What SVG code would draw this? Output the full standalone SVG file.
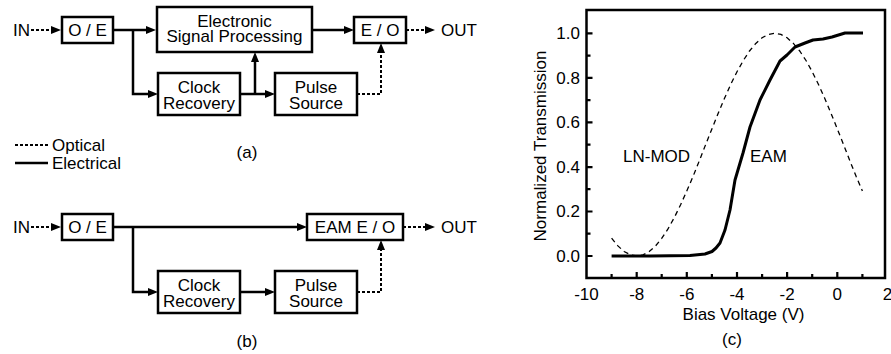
<svg xmlns="http://www.w3.org/2000/svg" width="891" height="354" viewBox="0 0 891 354">
<style>
text{font-family:"Liberation Sans",Arial,sans-serif;font-size:17px;fill:#000}
.c{text-anchor:middle}
.box{fill:#fff;stroke:#000;stroke-width:2.5}
.el{fill:none;stroke:#000;stroke-width:2.5}
.op{fill:none;stroke:#000;stroke-width:2;stroke-dasharray:3 2}
.tk{font-size:16.5px}
.ax{fill:none;stroke:#000;stroke-width:2.5}
.tick{stroke:#000;stroke-width:2.2}
</style>
<defs>
<marker id="ah" viewBox="0 0 10 8" refX="4" refY="4" markerWidth="10" markerHeight="8" markerUnits="userSpaceOnUse" orient="auto">
<path d="M0,0L10,4L0,8z" fill="#000"/>
</marker>
</defs>

<g id="connectors">
<path class="op" d="M31,30H55" marker-end="url(#ah)"/>
<path class="el" d="M113,30H150" marker-end="url(#ah)"/>
<path class="el" d="M133,30V94H152" marker-end="url(#ah)"/>
<path class="el" d="M240,94H269" marker-end="url(#ah)"/>
<path class="el" d="M255,94V58" marker-end="url(#ah)"/>
<path class="el" d="M312,30H348" marker-end="url(#ah)"/>
<path class="op" d="M406,30H429" marker-end="url(#ah)"/>
<path class="op" d="M357,94H381V49" marker-end="url(#ah)"/>

<path class="op" d="M31,227H55" marker-end="url(#ah)"/>
<path class="el" d="M113,227H301" marker-end="url(#ah)"/>
<path class="el" d="M133,227V292H152" marker-end="url(#ah)"/>
<path class="el" d="M240,292H269" marker-end="url(#ah)"/>
<path class="op" d="M403,227H429" marker-end="url(#ah)"/>
<path class="op" d="M357,292H381V246" marker-end="url(#ah)"/>
</g>

<g id="in-a"><text x="13" y="36">IN</text></g>
<g id="oe-a"><rect class="box" x="62" y="17" width="51" height="26"/><text class="c" x="87.5" y="36">O / E</text></g>
<g id="esp-a"><rect class="box" x="157" y="7" width="155" height="45"/><text class="c" x="234.5" y="26.5">Electronic</text><text class="c" x="234.5" y="41.5">Signal Processing</text></g>
<g id="cr-a"><rect class="box" x="158" y="73" width="82" height="42"/><text class="c" x="199" y="92.5">Clock</text><text class="c" x="199" y="108.5">Recovery</text></g>
<g id="ps-a"><rect class="box" x="275" y="73" width="82" height="42"/><text class="c" x="316" y="92.5">Pulse</text><text class="c" x="316" y="108.5">Source</text></g>
<g id="eo-a"><rect class="box" x="354" y="17" width="52" height="26"/><text class="c" x="380" y="36">E / O</text></g>
<g id="out-a"><text x="441" y="36">OUT</text></g>

<g id="legend">
<path class="op" d="M15,145H48"/><text x="52" y="151">Optical</text>
<path class="el" d="M15,163H48"/><text x="52" y="169">Electrical</text>
</g>
<text class="c" x="247" y="158">(a)</text>

<g id="in-b"><text x="13" y="233">IN</text></g>
<g id="oe-b"><rect class="box" x="62" y="214" width="51" height="26"/><text class="c" x="87.5" y="233">O / E</text></g>
<g id="eam-b"><rect class="box" x="307" y="214" width="96" height="26"/><text class="c" x="355" y="233">EAM E / O</text></g>
<g id="cr-b"><rect class="box" x="158" y="271" width="82" height="42"/><text class="c" x="199" y="290.5">Clock</text><text class="c" x="199" y="306.5">Recovery</text></g>
<g id="ps-b"><rect class="box" x="275" y="271" width="82" height="42"/><text class="c" x="316" y="290.5">Pulse</text><text class="c" x="316" y="306.5">Source</text></g>
<g id="out-b"><text x="441" y="233">OUT</text></g>
<text class="c" x="247" y="347">(b)</text>

<g id="plot">
<path class="tick" d="M586.5,256h6M586.5,211.5h6M586.5,167.1h6M586.5,122.4h6M586.5,77.8h6M586.5,33.3h6M586.5,233.7h4M586.5,189.2h4M586.5,144.6h4M586.5,100.1h4M586.5,55.6h4"/>
<path class="tick" d="M636.7,278v-6M686.8,278v-6M737,278v-6M787.1,278v-6M837.3,278v-6M611.6,278v-4M661.7,278v-4M711.9,278v-4M762.1,278v-4M812.2,278v-4M862.4,278v-4"/>
<rect class="ax" x="586.5" y="10" width="298.5" height="268"/>
<g class="tk" text-anchor="end">
<text x="580" y="261.9">0.0</text>
<text x="580" y="217.4">0.2</text>
<text x="580" y="173">0.4</text>
<text x="580" y="128.3">0.6</text>
<text x="580" y="83.7">0.8</text>
<text x="580" y="39.2">1.0</text>
</g>
<g class="tk" text-anchor="middle">
<text x="586.5" y="300">-10</text>
<text x="636.7" y="300">-8</text>
<text x="686.8" y="300">-6</text>
<text x="737" y="300">-4</text>
<text x="787.1" y="300">-2</text>
<text x="837.3" y="300">0</text>
<text x="887.5" y="300">2</text>
</g>
<text class="c" x="743.5" y="320">Bias Voltage (V)</text>
<text class="c" transform="translate(546,146) rotate(-90)">Normalized Transmission</text>
<text class="c" x="732" y="345">(c)</text>
<polyline fill="none" stroke="#000" stroke-width="1.3" stroke-dasharray="5 4" points="611.6,238.2 617.9,245.9 624.1,251.5 630.4,254.8 636.7,256 643,254.9 649.2,251.5 655.5,246 661.7,238.4 668,228.9 674.3,217.6 680.6,204.8 686.8,191 693.1,176.3 699.4,160.6 705.6,144.7 711.9,128.9 718.2,113.3 724.4,98.5 730.7,84.5 737,71.7 743.3,60.5 749.5,51 755.8,43.4 762.1,37.8 768.3,34.4 774.6,33.3 780.9,34.4 787.1,37.8 793.4,43.4 799.7,51 806,60.5 812.2,71.7 818.5,84.5 824.8,98.5 831,113.3 837.3,128.9 843.6,144.7 849.8,160.6 856.1,176.3 862.4,191"/>
<polyline fill="none" stroke="#000" stroke-width="3" stroke-linejoin="round" points="611.6,256 650,256 690,255.5 705,254 712,251.5 716,248 720,243 725,230 730,210 735,180 743,153 750,127 760,100 770,80 780,61 787,55 795,47 805,43 813,40 823,39 832,37 845,33 863,33"/>
<text x="623" y="162">LN-MOD</text>
<text x="750" y="162">EAM</text>
</g>
</svg>
